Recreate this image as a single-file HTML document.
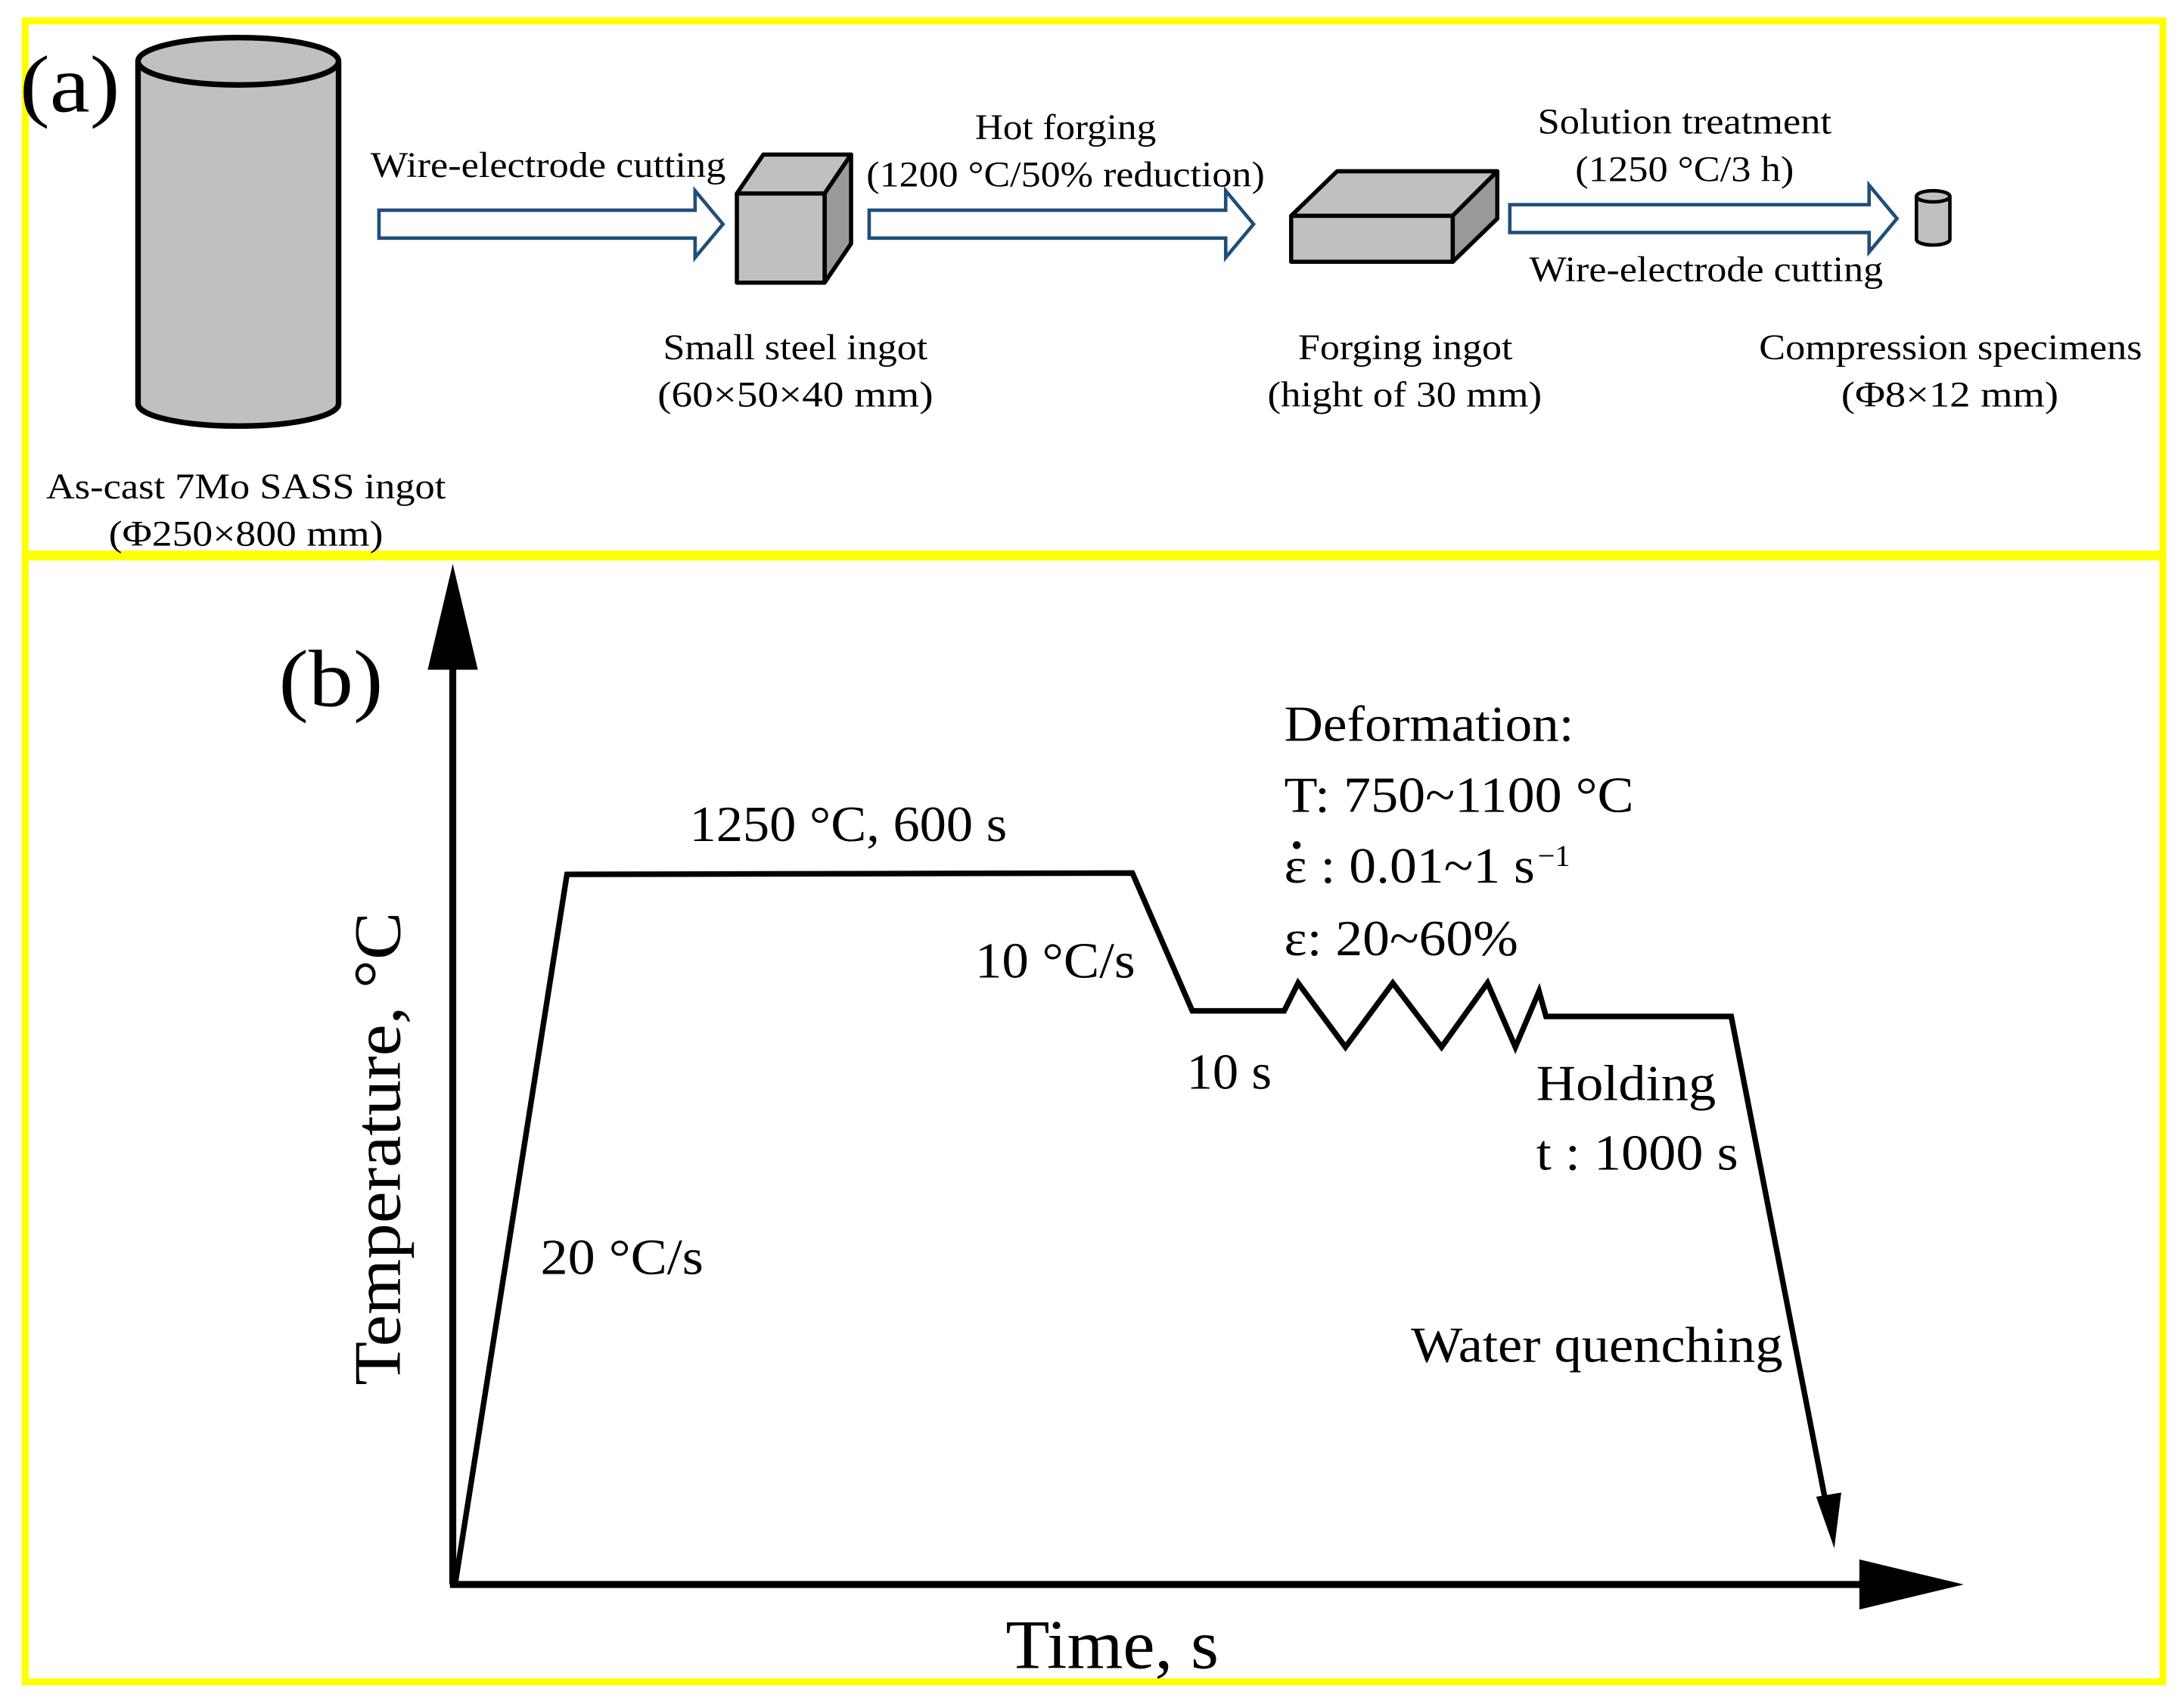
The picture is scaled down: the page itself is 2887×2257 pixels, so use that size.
<!DOCTYPE html>
<html><head><meta charset="utf-8"><style>html,body{margin:0;padding:0;background:#fff}svg{display:block}text{font-family:"Liberation Serif","Times New Roman",serif;fill:#000}</style></head>
<body>
<svg width="2887" height="2257" viewBox="0 0 1568 1226" xmlns="http://www.w3.org/2000/svg">
<rect x="0" y="0" width="1568" height="1226" fill="#fff"/>
<rect x="18" y="15" width="1535" height="383" fill="none" stroke="#ffff00" stroke-width="5"/>
<rect x="18" y="400" width="1535" height="808" fill="none" stroke="#ffff00" stroke-width="5"/>
<text x="14" y="80" font-size="58" textLength="72" lengthAdjust="spacingAndGlyphs">(a)</text>
<!-- cylinder -->
<path d="M99,45 L99,290 A72,16 0 0 0 243,290 L243,45" fill="#c0c0c0" stroke="#000" stroke-width="4"/>
<ellipse cx="171" cy="44" rx="72" ry="17" fill="#c0c0c0" stroke="#000" stroke-width="4"/>
<g font-size="26" lengthAdjust="spacingAndGlyphs">
<text x="33" y="358" textLength="287" lengthAdjust="spacingAndGlyphs">As-cast  7Mo SASS ingot</text>
<text x="78" y="392" textLength="197" lengthAdjust="spacingAndGlyphs">(Φ250×800 mm)</text>
<text x="266" y="127" textLength="255" lengthAdjust="spacingAndGlyphs">Wire-electrode  cutting</text>
<text x="476" y="258" textLength="190" lengthAdjust="spacingAndGlyphs">Small steel ingot</text>
<text x="472" y="292" textLength="198" lengthAdjust="spacingAndGlyphs">(60×50×40 mm)</text>
<text x="700" y="100" textLength="130" lengthAdjust="spacingAndGlyphs">Hot forging</text>
<text x="622" y="134" textLength="286" lengthAdjust="spacingAndGlyphs">(1200 °C/50% reduction)</text>
<text x="932" y="258" textLength="154" lengthAdjust="spacingAndGlyphs">Forging ingot</text>
<text x="910" y="292" textLength="197" lengthAdjust="spacingAndGlyphs">(hight of 30 mm)</text>
<text x="1104" y="96" textLength="211" lengthAdjust="spacingAndGlyphs">Solution treatment</text>
<text x="1131" y="130" textLength="157" lengthAdjust="spacingAndGlyphs">(1250 °C/3 h)</text>
<text x="1098" y="202" textLength="254" lengthAdjust="spacingAndGlyphs">Wire-electrode  cutting</text>
<text x="1263" y="258" textLength="275" lengthAdjust="spacingAndGlyphs">Compression  specimens</text>
<text x="1322" y="292" textLength="156" lengthAdjust="spacingAndGlyphs">(Φ8×12 mm)</text>
</g>
<!-- arrows -->
<g fill="#fff" stroke="#1f4e79" stroke-width="2.5">
<path d="M272,151 L499,151 L499,137 L519,161 L499,185 L499,171 L272,171 Z"/>
<path d="M624,151 L880,151 L880,137 L900,161 L880,185 L880,171 L624,171 Z"/>
<path d="M1084,147 L1342,147 L1342,133 L1362,157 L1342,181 L1342,167 L1084,167 Z"/>
</g>
<!-- cube -->
<g stroke="#000" stroke-width="3" stroke-linejoin="round">
<path d="M529,139 L548,111 L611,111 L592,139 Z" fill="#c0c0c0"/>
<path d="M592,139 L611,111 L611,175 L592,203 Z" fill="#999"/>
<rect x="529" y="139" width="63" height="64" fill="#c0c0c0"/>
</g>
<!-- slab -->
<g stroke="#000" stroke-width="3" stroke-linejoin="round">
<path d="M927,155 L960,123 L1075,123 L1043,155 Z" fill="#c0c0c0"/>
<path d="M1043,155 L1075,123 L1075,157 L1043,188 Z" fill="#999"/>
<rect x="927" y="155" width="116" height="33" fill="#c0c0c0"/>
</g>
<!-- small cylinder -->
<path d="M1376,141 L1376,172 A12,4 0 0 0 1400,172 L1400,141" fill="#c0c0c0" stroke="#000" stroke-width="2.5"/>
<ellipse cx="1388" cy="141" rx="12" ry="4" fill="#c0c0c0" stroke="#000" stroke-width="2.5"/>
<!-- panel b -->
<text x="200" y="507" font-size="58" textLength="75" lengthAdjust="spacingAndGlyphs">(b)</text>
<line x1="325" y1="1138" x2="325" y2="470" stroke="#000" stroke-width="5"/>
<polygon points="325,405 307,481 343,481" fill="#000"/>
<line x1="323" y1="1138" x2="1340" y2="1138" stroke="#000" stroke-width="5"/>
<polygon points="1410,1138 1335,1120 1335,1156" fill="#000"/>
<polyline points="327,1136 407,628 813,627 856,726 922,726 932,706 966,752 1000,706 1035,752 1068,706 1088,752 1105,712 1110,730 1243,730 1312,1085" fill="none" stroke="#000" stroke-width="4" stroke-linejoin="miter"/>
<polygon points="1317,1112 1304,1075 1322,1072" fill="#000"/>
<g font-size="36">
<text x="495" y="604" textLength="228" lengthAdjust="spacingAndGlyphs">1250 °C, 600 s</text>
<text x="700" y="702" textLength="115" lengthAdjust="spacingAndGlyphs">10 °C/s</text>
<text x="852" y="782" textLength="61" lengthAdjust="spacingAndGlyphs">10 s</text>
<text x="922" y="532" textLength="208" lengthAdjust="spacingAndGlyphs">Deformation:</text>
<text x="922" y="583" textLength="251" lengthAdjust="spacingAndGlyphs">T: 750~1100 °C</text>
<text x="922" y="634" textLength="180" lengthAdjust="spacingAndGlyphs">ε : 0.01~1 s</text>
<text x="1104" y="622" font-size="22">−1</text>
<text x="922" y="686" textLength="168" lengthAdjust="spacingAndGlyphs">ε: 20~60%</text>
<text x="1103" y="790" textLength="129" lengthAdjust="spacingAndGlyphs">Holding</text>
<text x="1103" y="840" textLength="145" lengthAdjust="spacingAndGlyphs">t : 1000 s</text>
<text x="388" y="915" textLength="117" lengthAdjust="spacingAndGlyphs">20 °C/s</text>
<text x="1013" y="978" textLength="267" lengthAdjust="spacingAndGlyphs">Water quenching</text>
</g>
<circle cx="931" cy="607" r="2.8" fill="#000"/>
<text x="0" y="0" font-size="48" text-anchor="middle" textLength="340" lengthAdjust="spacingAndGlyphs" transform="translate(287,825) rotate(-90)">Temperature, °C</text>
<text x="722" y="1198" font-size="50" textLength="153" lengthAdjust="spacingAndGlyphs">Time, s</text>
</svg>
</body></html>
